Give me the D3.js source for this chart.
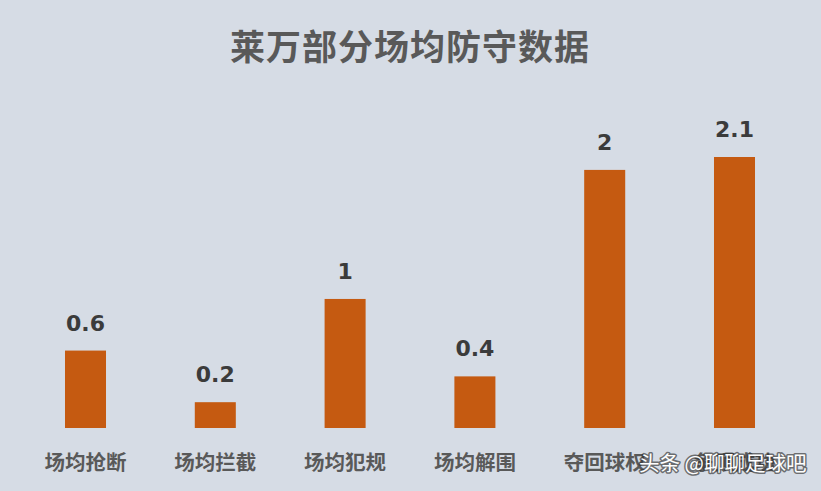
<!DOCTYPE html>
<html>
<head>
<meta charset="utf-8">
<script src="https://cdn.jsdelivr.net/npm/d3@7"></script>
<style>
  html, body { margin: 0; padding: 0; background: #d6dce5; }
  text { font-family: "Noto Sans CJK SC", "Noto Sans", sans-serif; }
</style>
</head>
<body>
<div id="chartContainer"></div>
<script>
const title = '莱万部分场均防守数据';
const categories = ['场均抢断', '场均拦截', '场均犯规', '场均解围', '夺回球权', '争顶成功'];
const values = [0.6, 0.2, 1, 0.4, 2, 2.1];
const watermark = '头条 @聊聊足球吧';

var width = 821,
    height = 491;

var svg = d3.select('#chartContainer')
    .append('svg')
    .attr('width', width)
    .attr('height', height);

svg.append('rect')
    .attr('width', width)
    .attr('height', height)
    .attr('fill', '#d6dce5');

var xScale = d3.scaleBand()
    .domain(categories)
    .range([20.6, 799.4])
    .paddingInner(0.684)
    .paddingOuter(0.342);

var yScale = d3.scaleLinear()
    .domain([0, 2.1])
    .range([428, 157]);

// title
svg.append('text')
    .attr('x', 410)
    .attr('y', 60)
    .attr('text-anchor', 'middle')
    .style('font-size', '35px')
    .style('font-weight', 'bold')
    .style('letter-spacing', '1px')
    .attr('fill', '#595959')
    .text(title);

// bars
svg.selectAll('rect.bar')
    .data(values)
    .enter()
    .append('rect')
    .attr('class', 'bar')
    .attr('x', function (d, i) { return xScale(categories[i]); })
    .attr('y', function (d) { return yScale(d); })
    .attr('width', xScale.bandwidth())
    .attr('height', function (d) { return yScale(0) - yScale(d); })
    .attr('fill', '#c55a11');

// value labels
svg.selectAll('text.val')
    .data(values)
    .enter()
    .append('text')
    .attr('class', 'val')
    .attr('x', function (d, i) { return xScale(categories[i]) + xScale.bandwidth() / 2; })
    .attr('y', function (d) { return yScale(d) - 20; })
    .attr('text-anchor', 'middle')
    .style('font-family', '"DejaVu Sans", sans-serif')
    .style('font-size', '22px')
    .style('font-weight', 'bold')
    .attr('fill', '#3b3b3b')
    .text(function (d) { return d; });

// category axis
var xAxis = d3.axisBottom(xScale).tickSize(0).tickPadding(0);
var gx = svg.append('g')
    .attr('transform', 'translate(0, 428)')
    .call(xAxis);
gx.select('.domain').remove();
gx.selectAll('text')
    .attr('dy', null)
    .attr('y', 42)
    .style('font-family', '"Noto Sans CJK SC", sans-serif')
    .style('font-size', '20.5px')
    .style('font-weight', 'bold')
    .attr('fill', '#595959');

// watermark
svg.append('text')
    .attr('x', 639)
    .attr('y', 471)
    .style('font-size', '20.5px')
    .attr('fill', 'none')
    .attr('stroke', '#333')
    .attr('stroke-width', 3)
    .attr('stroke-linejoin', 'round')
    .attr('opacity', 0.65)
    .text(watermark);
svg.append('text')
    .attr('x', 639)
    .attr('y', 471)
    .style('font-size', '20.5px')
    .attr('fill', '#ffffff')
    .text(watermark);
</script>
</body>
</html>
